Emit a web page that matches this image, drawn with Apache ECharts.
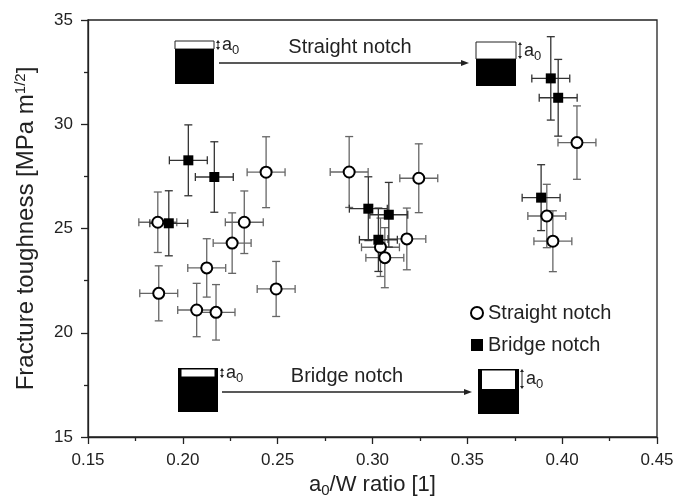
<!DOCTYPE html>
<html>
<head>
<meta charset="utf-8">
<script src="https://cdn.jsdelivr.net/npm/echarts@6/dist/echarts.min.js"></script>
<style>
  html, body { margin: 0; padding: 0; background: #fff; }
  #chart { width: 688px; height: 499px; }
</style>
</head>
<body>
<div id="chart"></div>
<script>
// Straight notch specimens
const straightX = [0.1868, 0.1873, 0.2073, 0.2126, 0.2175, 0.2260, 0.2324, 0.2439, 0.2492, 0.2877, 0.3042, 0.3065, 0.3181, 0.3244, 0.3919, 0.3951, 0.4078]
const straightY = [25.30, 21.89, 21.09, 23.11, 20.98, 24.30, 25.30, 27.70, 22.10, 27.71, 24.10, 23.60, 24.50, 27.41, 25.60, 24.39, 29.12]
const straightXErr = [0.010, 0.010, 0.010, 0.010, 0.010, 0.010, 0.010, 0.010, 0.010, 0.010, 0.010, 0.010, 0.010, 0.010, 0.010, 0.010, 0.010]
const straightYErr = [1.45, 1.32, 1.28, 1.40, 1.33, 1.45, 1.50, 1.70, 1.32, 1.70, 1.40, 1.44, 1.48, 1.65, 1.52, 1.46, 1.76]

// Bridge notch specimens
const bridgeX = [0.1926, 0.2029, 0.2166, 0.2978, 0.3031, 0.3086, 0.3889, 0.3940, 0.3979]
const bridgeY = [25.25, 28.27, 27.47, 25.95, 24.46, 25.66, 26.48, 32.20, 31.27]
const bridgeXErr = [0.010, 0.010, 0.010, 0.010, 0.010, 0.010, 0.010, 0.010, 0.010]
const bridgeYErr = [1.56, 1.70, 1.69, 1.53, 1.52, 1.55, 1.58, 2.00, 1.84]

const xTicks = [0.15, 0.20, 0.25, 0.30, 0.35, 0.40, 0.45]
const yTicks = [15, 20, 25, 30, 35]

const font = 'Liberation Sans, Arial, sans-serif'
const ink = '#222'

const toPoints = (xs, ys) => xs.map((x, i) => [x, ys[i]])
const toBars = (xs, ys, ex, ey) => xs.map((x, i) => [x, ys[i], ex[i], ey[i]])

const errorBarItem = (color) => (params, api) => {
  const x = api.value(0), y = api.value(1)
  const ex = api.value(2), ey = api.value(3)
  const c = api.coord([x, y])
  const l = api.coord([x - ex, y]), r = api.coord([x + ex, y])
  const t = api.coord([x, y + ey]), b = api.coord([x, y - ey])
  const cap = 4
  const style = { stroke: color, lineWidth: 1.3 }
  return {
    type: 'group',
    children: [
      { type: 'line', shape: { x1: l[0], y1: c[1], x2: r[0], y2: c[1] }, style },
      { type: 'line', shape: { x1: l[0], y1: c[1] - cap, x2: l[0], y2: c[1] + cap }, style },
      { type: 'line', shape: { x1: r[0], y1: c[1] - cap, x2: r[0], y2: c[1] + cap }, style },
      { type: 'line', shape: { x1: c[0], y1: t[1], x2: c[0], y2: b[1] }, style },
      { type: 'line', shape: { x1: c[0] - cap, y1: t[1], x2: c[0] + cap, y2: t[1] }, style },
      { type: 'line', shape: { x1: c[0] - cap, y1: b[1], x2: c[0] + cap, y2: b[1] }, style }
    ]
  }
}

// little a0 label with its double arrow
const a0Label = (x, y, h) => [
  { type: 'line', shape: { x1: x, y1: y + 2, x2: x, y2: y + h - 2 }, style: { stroke: ink, lineWidth: 1 } },
  { type: 'polygon', shape: { points: [[x - 2, y + 3], [x + 2, y + 3], [x, y]] }, style: { fill: ink } },
  { type: 'polygon', shape: { points: [[x - 2, y + h - 3], [x + 2, y + h - 3], [x, y + h]] }, style: { fill: ink } },
  {
    type: 'text', x: x + 4, y: y + h / 2 - 11,
    style: {
      text: '{a|a}{s|0}',
      rich: {
        a: { fontSize: 18, fontFamily: font, fill: ink },
        s: { fontSize: 13, fontFamily: font, fill: ink, padding: [10, 0, 0, 0] }
      }
    }
  }
]

const arrow = (x1, x2, y) => [
  { type: 'line', shape: { x1: x1, y1: y, x2: x2 - 6, y2: y }, style: { stroke: ink, lineWidth: 1.3 } },
  { type: 'polygon', shape: { points: [[x2 - 8, y - 3], [x2 - 8, y + 3], [x2, y]] }, style: { fill: ink } }
]

const graphics = [
  // straight notch, short crack
  { type: 'rect', shape: { x: 175, y: 41, width: 39, height: 8 }, style: { fill: '#fff', stroke: ink, lineWidth: 1 } },
  { type: 'rect', shape: { x: 175, y: 49, width: 39, height: 35 }, style: { fill: '#000' } },
  ...a0Label(218, 40, 10),
  { type: 'text', x: 350, y: 47, style: { text: 'Straight notch', fontSize: 20, fontFamily: font, fill: ink, align: 'center', verticalAlign: 'middle' } },
  ...arrow(219, 469, 63),
  // straight notch, long crack
  { type: 'rect', shape: { x: 476, y: 42, width: 40, height: 17 }, style: { fill: '#fff', stroke: ink, lineWidth: 1 } },
  { type: 'rect', shape: { x: 476, y: 59, width: 40, height: 27 }, style: { fill: '#000' } },
  ...a0Label(520, 42, 17),
  // bridge notch, short crack
  { type: 'rect', shape: { x: 178, y: 368, width: 40, height: 44 }, style: { fill: '#000' } },
  { type: 'rect', shape: { x: 181.5, y: 369.5, width: 33, height: 7 }, style: { fill: '#fff' } },
  ...a0Label(222, 368, 10),
  { type: 'text', x: 347, y: 376, style: { text: 'Bridge notch', fontSize: 20, fontFamily: font, fill: ink, align: 'center', verticalAlign: 'middle' } },
  ...arrow(222, 472, 392),
  // bridge notch, long crack
  { type: 'rect', shape: { x: 478, y: 369, width: 41, height: 45 }, style: { fill: '#000' } },
  { type: 'rect', shape: { x: 482, y: 370.5, width: 33, height: 18.5 }, style: { fill: '#fff' } },
  ...a0Label(522, 369, 20)
]

const chart = echarts.init(document.getElementById('chart'))

chart.setOption({
  backgroundColor: '#fff',
  animation: false,
  grid: {
    left: 88, right: 31, top: 20, bottom: 62,
    outerBoundsMode: 'none',
    show: true, borderColor: ink, borderWidth: 1.3
  },
  xAxis: {
    type: 'value',
    min: xTicks[0],
    max: xTicks[xTicks.length - 1],
    interval: 0.05,
    name: '{a|a}{s|0}{a|/W ratio [1]}',
    nameLocation: 'middle',
    nameGap: 33,
    nameTextStyle: {
      rich: {
        a: { fontSize: 22, fontFamily: font, color: ink },
        s: { fontSize: 15, fontFamily: font, color: ink, padding: [12, 0, 0, 0] }
      }
    },
    axisLine: { lineStyle: { color: ink, width: 1.3 } },
    axisTick: { length: 7, lineStyle: { color: ink, width: 1.3 } },
    minorTick: { show: true, splitNumber: 2, length: 4, lineStyle: { color: ink, width: 1.3 } },
    splitLine: { show: false },
    axisLabel: { color: ink, fontSize: 17, fontFamily: font, margin: 15, formatter: v => v.toFixed(2) }
  },
  yAxis: {
    type: 'value',
    min: yTicks[0],
    max: yTicks[yTicks.length - 1],
    interval: 5,
    name: '{a|Fracture toughness [MPa m}{s|1/2}{a|]}',
    nameLocation: 'middle',
    nameRotate: 90,
    nameGap: 48,
    nameTextStyle: {
      rich: {
        a: { fontSize: 24, fontFamily: font, color: ink },
        s: { fontSize: 15, fontFamily: font, color: ink, padding: [0, 0, 12, 0] }
      }
    },
    axisLine: { lineStyle: { color: ink, width: 1.3 } },
    axisTick: { length: 7, lineStyle: { color: ink, width: 1.3 } },
    minorTick: { show: true, splitNumber: 2, length: 4, lineStyle: { color: ink, width: 1.3 } },
    splitLine: { show: false },
    axisLabel: { color: ink, fontSize: 17, fontFamily: font, margin: 15 }
  },
  legend: {
    data: ['Straight notch', 'Bridge notch'],
    orient: 'vertical',
    left: 465,
    top: 298,
    itemGap: 12,
    itemWidth: 12,
    itemHeight: 12,
    textStyle: { fontSize: 20, fontFamily: font, color: ink }
  },
  graphic: graphics,
  series: [
    {
      type: 'custom',
      renderItem: errorBarItem('#666'),
      data: toBars(straightX, straightY, straightXErr, straightYErr),
      z: 1,
      silent: true
    },
    {
      type: 'custom',
      renderItem: errorBarItem('#333'),
      data: toBars(bridgeX, bridgeY, bridgeXErr, bridgeYErr),
      z: 1,
      silent: true
    },
    {
      name: 'Straight notch',
      type: 'scatter',
      symbol: 'circle',
      symbolSize: 11,
      itemStyle: { color: '#fff', borderColor: '#000', borderWidth: 2, opacity: 1 },
      data: toPoints(straightX, straightY),
      z: 3
    },
    {
      name: 'Bridge notch',
      type: 'scatter',
      symbol: 'rect',
      symbolSize: 10,
      itemStyle: { color: '#000', opacity: 1 },
      data: toPoints(bridgeX, bridgeY),
      z: 3
    }
  ]
})
</script>
</body>
</html>
